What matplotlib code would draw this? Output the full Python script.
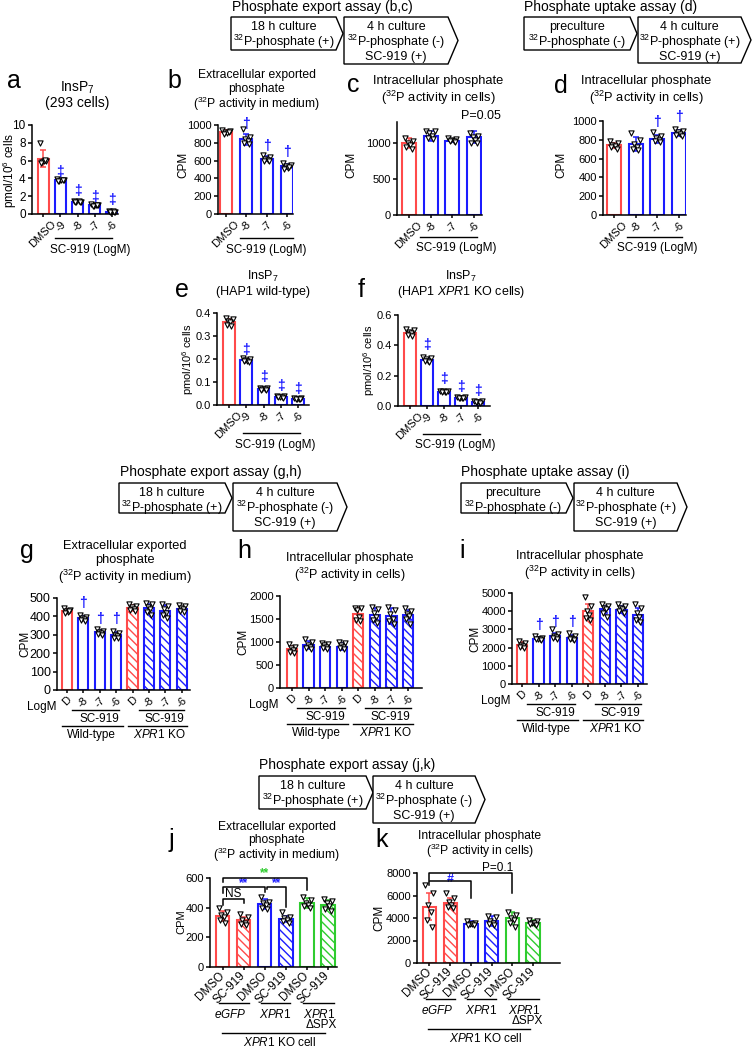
import matplotlib
matplotlib.use("Agg")
import matplotlib.pyplot as plt
from matplotlib.transforms import Affine2D, blended_transform_factory
from matplotlib.patches import Polygon
from matplotlib.lines import Line2D

plt.rcParams['font.family'] = ['Liberation Sans', 'DejaVu Sans']
plt.rcParams['mathtext.fontset'] = 'custom'
plt.rcParams['mathtext.rm'] = 'Liberation Sans'
plt.rcParams['mathtext.it'] = 'Liberation Sans:italic'
plt.rcParams['mathtext.bf'] = 'Liberation Sans:bold'
plt.rcParams['hatch.linewidth'] = 1.0

RED = '#ff4a4a'
BLUE = '#1c1cff'
GREEN = '#2fcc2f'

# ---------------- data ----------------
a_labels = ['DMSO', '-9', '-8', '-7', '-6']
a_means = [6.2, 3.8, 1.4, 1.0, 0.25]
a_sds = [0.95, 0.12, 0.1, 0.1, 0.08]
a_points = [[8.0, 6.0, 5.8, 5.9, 5.7, 6.1], [3.9, 3.8, 3.7, 3.85, 3.75, 3.8],
            [1.5, 1.4, 1.35, 1.45, 1.3, 1.4], [1.1, 1.0, 0.95, 1.05, 0.9, 1.0],
            [0.3, 0.25, 0.2, 0.3, 0.25, 0.2]]
a_marks = [None, 4.7, 2.6, 1.9, 1.6]

b_labels = ['DMSO', '-8', '-7', '-6']
b_means = [920, 840, 620, 535]
b_sds = [20, 60, 30, 30]
b_points = [[940, 930, 920, 910, 900, 925], [950, 860, 840, 820, 800, 790],
            [660, 640, 620, 610, 600, 590], [570, 550, 540, 520, 510, 530]]
b_marks = [None, 1010, 765, 700]

c_labels = ['DMSO', '-8', '-7', '-6']
c_means = [1000, 1110, 1040, 1090]
c_sds = [70, 70, 25, 90]
c_points = [[1070, 1030, 1000, 980, 950, 920], [1180, 1170, 1150, 1100, 1070, 1060],
            [1080, 1060, 1050, 1040, 1030, 1020], [1150, 1100, 1090, 1050, 1000, 1000]]

d_labels = ['DMSO', '-8', '-7', '-6']
d_means = [740, 760, 810, 870]
d_sds = [30, 75, 40, 30]
d_points = [[790, 770, 750, 730, 720, 700], [870, 800, 760, 720, 700, 690],
            [880, 840, 820, 800, 790, 780], [910, 890, 880, 860, 850, 840]]
d_marks = [None, None, 990, 1043]

e_labels = ['DMSO', '-9', '-8', '-7', '-6']
e_means = [0.36, 0.195, 0.07, 0.035, 0.027]
e_sds = [0.012, 0.006, 0.004, 0.003, 0.003]
e_points = [[0.38, 0.375, 0.365, 0.36, 0.35, 0.345], [0.205, 0.2, 0.195, 0.19, 0.19, 0.185],
            [0.075, 0.072, 0.07, 0.068, 0.066, 0.065], [0.04, 0.038, 0.036, 0.034, 0.033, 0.032],
            [0.03, 0.029, 0.028, 0.027, 0.026, 0.025]]
e_marks = [None, 0.24, 0.12, 0.083, 0.07]

f_labels = ['DMSO', '-9', '-8', '-7', '-6']
f_means = [0.48, 0.305, 0.095, 0.055, 0.028]
f_sds = [0.015, 0.01, 0.005, 0.005, 0.005]
f_points = [[0.51, 0.5, 0.49, 0.48, 0.47, 0.46], [0.32, 0.315, 0.31, 0.3, 0.295, 0.29],
            [0.1, 0.098, 0.096, 0.094, 0.092, 0.09], [0.06, 0.058, 0.056, 0.054, 0.052, 0.05],
            [0.033, 0.031, 0.029, 0.027, 0.025, 0.023]]
f_marks = [None, 0.40, 0.18, 0.125, 0.10]

ghi_labels = ['D', '-8', '-7', '-6', 'D', '-8', '-7', '-6']

g_means = [430, 390, 315, 300, 445, 445, 430, 440]
g_sds = [10, 12, 12, 15, 15, 25, 30, 12]
g_points = [[445, 435, 430, 425, 420, 430], [405, 395, 390, 385, 380, 375],
            [330, 320, 315, 310, 305, 300], [320, 310, 300, 295, 285, 280],
            [470, 455, 450, 440, 435, 430], [475, 470, 450, 440, 425, 410],
            [470, 455, 440, 420, 410, 390], [460, 455, 445, 440, 430, 425]]
g_marks = [None, 473, 386, 386, None, None, None, None]

h_means = [840, 930, 900, 900, 1610, 1580, 1570, 1580]
h_sds = [80, 90, 60, 70, 120, 150, 170, 110]
h_points = [[960, 900, 860, 820, 780, 760], [1060, 990, 940, 900, 870, 850],
            [980, 960, 930, 900, 860, 840], [990, 970, 930, 900, 860, 850],
            [1750, 1730, 1700, 1540, 1480, 1450], [1760, 1720, 1640, 1550, 1480, 1420],
            [1760, 1700, 1600, 1500, 1450, 1400], [1740, 1680, 1600, 1560, 1500, 1400]]

i_means = [2150, 2500, 2650, 2550, 4000, 4100, 4080, 3800]
i_sds = [150, 100, 150, 150, 400, 200, 200, 350]
i_points = [[2350, 2250, 2150, 2100, 2050, 2000], [2650, 2550, 2500, 2450, 2450, 2400],
            [3000, 2750, 2650, 2600, 2550, 2500], [2800, 2650, 2550, 2500, 2450, 2400],
            [4800, 4300, 4000, 3800, 3600, 3500], [4400, 4300, 4200, 4100, 3900, 3700],
            [4400, 4300, 4200, 4100, 4000, 3900], [4400, 4200, 3900, 3700, 3500, 3400]]
i_marks = [None, 3240, 3400, 3400, None, None, None, None]

jk_labels = ['DMSO', 'SC-919', 'DMSO', 'SC-919', 'DMSO', 'SC-919']
j_means = [345, 315, 425, 325, 430, 420]
j_sds = [35, 25, 35, 20, 35, 30]
j_points = [[400, 370, 350, 340, 320, 300], [360, 340, 320, 300, 290, 280],
            [470, 440, 430, 420, 400, 390], [370, 340, 330, 320, 310, 300],
            [470, 450, 430, 420, 410, 400], [460, 445, 430, 410, 390, 380]]

k_means = [5000, 5350, 3500, 3750, 4000, 3600]
k_sds = [1200, 450, 200, 450, 500, 250]
k_points = [[6900, 6200, 5200, 4500, 3800, 3200], [6200, 5800, 5400, 5200, 5000, 4900],
            [3700, 3600, 3500, 3450, 3400, 3350], [4200, 4100, 3700, 3600, 3500, 3400],
            [4500, 4300, 4000, 3800, 3600, 3200], [3800, 3700, 3600, 3550, 3500, 3400]]

# ---------------- figure ----------------
W, H = 752, 1049
fig = plt.figure(figsize=(W / 100, H / 100), dpi=100)
PX = Affine2D().scale(1 / W, -1 / H).translate(0, 1) + fig.transFigure

OFFS = [-0.3, 0.3, -0.1, 0.1, -0.2, 0.2]
HATCH = '\\\\\\\\'


def ftext(x, y, s, **kw):
    kw.setdefault('ha', 'center')
    kw.setdefault('va', 'center')
    fig.text(x, y, s, transform=PX, **kw)


def make_ax(x0, x1, ytop, ybot, xlim, ylim, yticks, ytl=None, fs=8):
    ax = fig.add_axes([x0 / W, 1 - ybot / H, (x1 - x0) / W, (ybot - ytop) / H])
    ax.set_xlim(*xlim)
    ax.set_ylim(*ylim)
    for s in ['top', 'right']:
        ax.spines[s].set_visible(False)
    for s in ['left', 'bottom']:
        ax.spines[s].set_linewidth(1.1)
    ax.set_yticks(yticks)
    if ytl is not None:
        ax.set_yticklabels(ytl)
    ax.tick_params(axis='y', length=3, width=1.1, labelsize=fs, pad=1.5)
    ax.tick_params(axis='x', length=2.5, width=1.1, labelsize=8, pad=1)
    ax.patch.set_alpha(0)
    return ax


def draw_bars(ax, means, sds, pts, colors, hatches, width):
    for i in range(len(means)):
        c = colors[i]
        ax.bar(i, means[i], width=width, facecolor='white', edgecolor=c,
               linewidth=1.5, hatch=hatches[i], zorder=2)
        ax.errorbar(i, means[i], yerr=sds[i], color=c, capsize=2.5,
                    elinewidth=1.1, capthick=1.1, zorder=3)
        xs = [i + o * width for o in OFFS[:len(pts[i])]]
        ax.scatter(xs, pts[i], marker='v', s=14, facecolor='white',
                   edgecolor='black', linewidths=0.8, zorder=4, clip_on=False)


def marks(ax, ys, sym):
    for i, y in enumerate(ys):
        if y is not None:
            ax.text(i, y, sym, color=BLUE, ha='center', va='center',
                    fontsize=10, fontweight='bold', clip_on=False)


def hl(ax, xa, xb, ypx, lw=1.0):
    tr = blended_transform_factory(ax.transData, PX)
    ax.add_line(Line2D([xa, xb], [ypx, ypx], transform=tr, color='black',
                       lw=lw, clip_on=False))


def tx(ax, x, ypx, s, **kw):
    tr = blended_transform_factory(ax.transData, PX)
    kw.setdefault('ha', 'center')
    kw.setdefault('va', 'center')
    kw.setdefault('fontsize', 8.5)
    ax.text(x, ypx, s, transform=tr, clip_on=False, **kw)


def bracket(ax, xa, xb, yh, ya, yb, color='black'):
    ax.plot([xa, xa, xb, xb], [ya, yh, yh, yb], color=color, lw=1.1,
            clip_on=False, zorder=5)


def chevron(x0, y0, y1, tip, prot):
    poly = Polygon([(x0, y0), (tip - prot, y0), (tip, (y0 + y1) / 2),
                    (tip - prot, y1), (x0, y1)], closed=True, transform=PX,
                   facecolor='white', edgecolor='black', linewidth=1.0)
    fig.add_artist(poly)


def schematic(title, tx0, ty, b1, b2, lines1, lines2):
    ftext(tx0, ty, title, ha='left', fontsize=10)
    x0, y0, y1, tip = b1
    chevron(x0, y0, y1, tip, 7)
    cx = (x0 + tip - 7) / 2
    for k, s in enumerate(lines1):
        ftext(cx, y0 + 10 + 15 * k, s, fontsize=9)
    x0, y0, y1, tip = b2
    chevron(x0, y0, y1, tip, 10)
    cx = (x0 + tip - 10) / 2
    for k, s in enumerate(lines2):
        ftext(cx, y0 + 10 + 15 * k, s, fontsize=9)


P32 = '$^{32}$P-phosphate'
exp1 = ['18 h culture', P32 + ' (+)']
exp2 = ['4 h culture', P32 + ' (-)', 'SC-919 (+)']
up1 = ['preculture', P32 + ' (-)']
up2 = ['4 h culture', P32 + ' (+)', 'SC-919 (+)']

schematic('Phosphate export assay (b,c)', 232, 7, (231, 17, 50, 343), (344, 17, 64, 458), exp1, exp2)
schematic('Phosphate uptake assay (d)', 524, 7, (524, 17, 50, 637), (638, 17, 63, 751), up1, up2)
schematic('Phosphate export assay (g,h)', 120, 472, (119, 483, 513, 232), (233, 483, 531, 347), exp1, exp2)
schematic('Phosphate uptake assay (i)', 461, 472, (461, 483, 513, 573), (574, 483, 531, 687), up1, up2)
schematic('Phosphate export assay (j,k)', 259, 765, (259, 776, 809, 373), (373, 776, 823, 485), exp1, exp2)

LET = dict(fontsize=18, ha='left', va='baseline')
MED = '($^{32}$P activity in medium)'
CEL = '($^{32}$P activity in cells)'

# ---------------- panel a ----------------
ax = make_ax(32, 118, 125, 214, (-0.65, 4.35), (0, 10), [0, 2, 4, 6, 8, 10], fs=8.5)
draw_bars(ax, a_means, a_sds, a_points, [RED] + [BLUE] * 4, [None] * 5, 0.64)
marks(ax, a_marks, '‡')
ax.set_xticks(range(5))
ax.set_xticklabels(a_labels, rotation=45)
hl(ax, 0.7, 4.0, 238)
tx(ax, 2.73, 250, 'SC-919 (LogM)')
ftext(7, 88, 'a', **LET)
ftext(77, 88, 'InsP$_7$', fontsize=10)
ftext(77, 103, '(293 cells)', fontsize=10)
ftext(10, 170, 'pmol/10$^6$ cells', rotation=90, fontsize=8.5)

# ---------------- panel b ----------------
ax = make_ax(218, 293, 125, 214, (-0.4, 3.3), (0, 1000), [0, 200, 400, 600, 800, 1000])
draw_bars(ax, b_means, b_sds, b_points, [RED] + [BLUE] * 3, [None] * 4, 0.6)
marks(ax, b_marks, '†')
ax.set_xticks(range(4))
ax.set_xticklabels(b_labels, rotation=45)
hl(ax, 0.7, 3.3, 238)
tx(ax, 2.0, 250, 'SC-919 (LogM)')
ftext(167, 88, 'b', **LET)
ftext(257, 75, 'Extracellular exported', fontsize=8.7)
ftext(257, 89, 'phosphate', fontsize=8.7)
ftext(257, 104, MED, fontsize=8.7)
ftext(183, 165, 'CPM', rotation=90, fontsize=8.5)

# ---------------- panel c ----------------
ax = make_ax(397, 482, 122, 215, (-0.55, 3.37), (0, 1300), [0, 500, 1000])
draw_bars(ax, c_means, c_sds, c_points, [RED] + [BLUE] * 3, [None] * 4, 0.64)
ax.set_xticks(range(4))
ax.set_xticklabels(c_labels, rotation=45)
hl(ax, 0.5, 3.13, 237)
tx(ax, 2.17, 248, 'SC-919 (LogM)')
ftext(347, 92, 'c', **LET)
ftext(438, 81, 'Intracellular phosphate', fontsize=9.3)
ftext(438, 98, CEL, fontsize=9.3)
ftext(481, 116, 'P=0.05', fontsize=9)
ftext(351, 165, 'CPM', rotation=90, fontsize=8.5)

# ---------------- panel d ----------------
ax = make_ax(603, 686, 121, 215, (-0.5, 3.32), (0, 1000), [0, 200, 400, 600, 800, 1000])
draw_bars(ax, d_means, d_sds, d_points, [RED] + [BLUE] * 3, [None] * 4, 0.64)
marks(ax, d_marks, '†')
ax.set_xticks(range(4))
ax.set_xticklabels(d_labels, rotation=45)
hl(ax, 0.6, 3.13, 237)
tx(ax, 1.98, 248, 'SC-919 (LogM)')
ftext(554, 93, 'd', **LET)
ftext(646, 81, 'Intracellular phosphate', fontsize=9.3)
ftext(646, 98, CEL, fontsize=9.3)
ftext(561, 165, 'CPM', rotation=90, fontsize=8.5)

# ---------------- panel e ----------------
ax = make_ax(217, 309, 313, 405, (-0.7, 4.64), (0, 0.4), [0, 0.1, 0.2, 0.3, 0.4],
             ['0.0', '0.1', '0.2', '0.3', '0.4'])
draw_bars(ax, e_means, e_sds, e_points, [RED] + [BLUE] * 4, [None] * 5, 0.68)
marks(ax, e_marks, '‡')
ax.set_xticks(range(5))
ax.set_xticklabels(e_labels, rotation=45)
hl(ax, 0.8, 4.1, 433)
tx(ax, 2.67, 445, 'SC-919 (LogM)')
ftext(175, 297, 'e', **LET)
ftext(263, 276, 'InsP$_7$', fontsize=9)
ftext(263, 292, '(HAP1 wild-type)', fontsize=9)
ftext(188, 359, 'pmol/10$^6$ cells', rotation=90, fontsize=8)

# ---------------- panel f ----------------
ax = make_ax(398, 490, 315, 406, (-0.7, 4.7), (0, 0.6), [0, 0.2, 0.4, 0.6],
             ['0.0', '0.2', '0.4', '0.6'])
draw_bars(ax, f_means, f_sds, f_points, [RED] + [BLUE] * 4, [None] * 5, 0.7)
marks(ax, f_marks, '‡')
ax.set_xticks(range(5))
ax.set_xticklabels(f_labels, rotation=45)
hl(ax, 0.76, 4.1, 434)
tx(ax, 2.65, 445, 'SC-919 (LogM)')
ftext(358, 297, 'f', **LET)
ftext(461, 276, 'InsP$_7$', fontsize=9)
ftext(461, 292, '(HAP1 $\\mathit{XPR1}$ KO cells)', fontsize=9)
ftext(369, 360, 'pmol/10$^6$ cells', rotation=90, fontsize=8)

# ---------------- panels g, h, i ----------------
ghi_colors = [RED, BLUE, BLUE, BLUE, RED, BLUE, BLUE, BLUE]
ghi_hatch = [None] * 4 + [HATCH] * 4


def ghi_axes(x0, x1, ytop, ybot, xlim, ylim, yticks, means, sds, pts, mk, fs=8):
    ax = make_ax(x0, x1, ytop, ybot, xlim, ylim, yticks, fs=fs)
    draw_bars(ax, means, sds, pts, ghi_colors, ghi_hatch, 0.62)
    if mk is not None:
        marks(ax, mk, '†')
    ax.set_xticks(range(8))
    ax.set_xticklabels(ghi_labels, rotation=45)
    ftext(x0 - 1, ybot + 17, 'LogM', ha='right', fontsize=8.5)
    hl(ax, 0.3, 3.2, ybot + 20)
    hl(ax, 4.4, 7.15, ybot + 20)
    tx(ax, 3.2, ybot + 29, 'SC-919', ha='right')
    tx(ax, 7.15, ybot + 29, 'SC-919', ha='right')
    hl(ax, -0.3, 3.4, ybot + 36)
    hl(ax, 3.7, 7.3, ybot + 36)
    tx(ax, 1.5, ybot + 45, 'Wild-type')
    tx(ax, 5.6, ybot + 45, '$\\mathit{XPR1}$ KO')
    return ax


ghi_axes(57, 190, 598, 690, (-0.6, 7.5), (0, 500), [0, 100, 200, 300, 400, 500],
         g_means, g_sds, g_points, g_marks, fs=9)
ftext(20, 558, 'g', **LET)
ftext(125, 546, 'Extracellular exported', fontsize=9.2)
ftext(125, 560, 'phosphate', fontsize=9.2)
ftext(125, 577, MED, fontsize=9.2)
ftext(25, 644, 'CPM', rotation=90, fontsize=8.5)

ghi_axes(280, 422, 596, 688, (-0.72, 7.84), (0, 2000), [0, 500, 1000, 1500, 2000],
         h_means, h_sds, h_points, None)
ftext(237, 558, 'h', **LET)
ftext(350, 558, 'Intracellular phosphate', fontsize=9)
ftext(350, 575, CEL, fontsize=9)
ftext(243, 642, 'CPM', rotation=90, fontsize=8.5)

ghi_axes(512, 647, 593, 684, (-0.6, 7.54), (0, 5000), [0, 1000, 2000, 3000, 4000, 5000],
         i_means, i_sds, i_points, i_marks)
ftext(459, 558, 'i', **LET)
ftext(580, 556, 'Intracellular phosphate', fontsize=9)
ftext(580, 573, CEL, fontsize=9)
ftext(475, 639, 'CPM', rotation=90, fontsize=8.5)

# ---------------- panels j, k ----------------
jk_colors = [RED, RED, BLUE, BLUE, GREEN, GREEN]
jk_hatch = [None, HATCH, None, HATCH, None, HATCH]


def jk_axes(x0, x1, ytop, ybot, xlim, ylim, yticks, means, sds, pts):
    ax = make_ax(x0, x1, ytop, ybot, xlim, ylim, yticks)
    draw_bars(ax, means, sds, pts, jk_colors, jk_hatch, 0.64)
    ax.set_xticks(range(6))
    ax.set_xticklabels(jk_labels, rotation=45, ha='right', va='center',
                       rotation_mode='anchor')
    ax.tick_params(axis='x', pad=2.5, labelsize=8.5)
    hl(ax, -0.15, 1.25, ybot + 36)
    hl(ax, 1.8, 3.2, ybot + 36)
    hl(ax, 3.8, 5.3, ybot + 36)
    tx(ax, 0.36, ybot + 47, '$\\mathit{eGFP}$')
    tx(ax, 2.5, ybot + 47, '$\\mathit{XPR1}$')
    tx(ax, 4.58, ybot + 47, '$\\mathit{XPR1}$')
    tx(ax, 4.7, ybot + 58, 'ΔSPX')
    hl(ax, -0.05, 4.85, ybot + 66)
    tx(ax, 2.7, ybot + 76, '$\\mathit{XPR1}$ KO cell')
    return ax


ax = jk_axes(210, 337, 878, 967, (-0.6, 5.43), (0, 600), [0, 200, 400, 600],
             j_means, j_sds, j_points)
bracket(ax, 0, 1, 460, 420, 430)
ax.text(0.5, 495, 'NS', ha='center', va='center', fontsize=8.5, clip_on=False)
bracket(ax, 0, 2, 540, 500, 505)
ax.text(1, 565, '**', color=BLUE, ha='center', va='center', fontsize=8.5, fontweight='bold', clip_on=False)
bracket(ax, 2.1, 3, 540, 525, 405)
ax.text(2.55, 565, '**', color=BLUE, ha='center', va='center', fontsize=8.5, fontweight='bold', clip_on=False)
bracket(ax, 0, 4, 600, 575, 520)
ax.text(2, 632, '**', color=GREEN, ha='center', va='center', fontsize=8.5, fontweight='bold', clip_on=False)
ftext(169, 847, 'j', **LET)
ftext(277, 827, 'Extracellular exported', fontsize=8.7)
ftext(277, 840, 'phosphate', fontsize=8.7)
ftext(277, 855, MED, fontsize=8.7)
ftext(181, 922, 'CPM', rotation=90, fontsize=8)

ax = jk_axes(417, 560, 873, 963, (-0.6, 6.3), (0, 8000), [0, 2000, 4000, 6000, 8000],
             k_means, k_sds, k_points)
bracket(ax, 0, 4, 8020, 7350, 6250)
ax.text(3.3, 8480, 'P=0.1', ha='center', va='center', fontsize=8.5, clip_on=False)
bracket(ax, 0, 2, 7300, 6900, 5780)
ax.text(1, 7500, '#', color=BLUE, ha='center', va='center', fontsize=9, fontweight='bold', clip_on=False)
ftext(375, 847, 'k', **LET)
ftext(480, 836, 'Intracellular phosphate', fontsize=8.7)
ftext(480, 851, CEL, fontsize=8.7)
ftext(379, 918, 'CPM', rotation=90, fontsize=8.5)

fig.savefig('out.png', dpi=100)
